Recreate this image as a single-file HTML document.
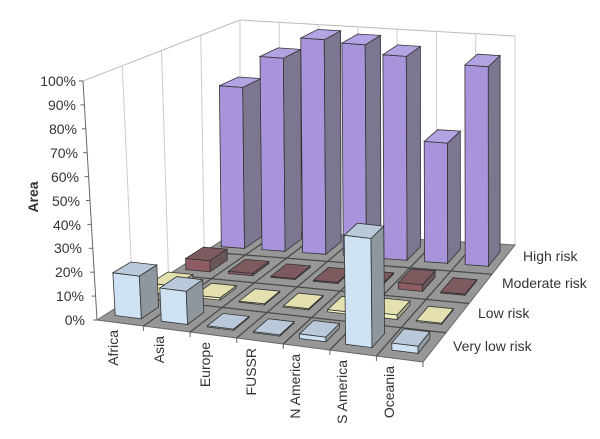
<!DOCTYPE html><html><head><style>body{margin:0;background:#fff}svg{display:block}text{font-family:"Liberation Sans",sans-serif;fill:#333}</style></head><body>
<svg id="s" width="600" height="439" xmlns="http://www.w3.org/2000/svg">
<g id="walls"></g><g id="bars"></g>
<g font-size="14" text-anchor="end">
<text x="76" y="86">100%</text><text x="76" y="110">90%</text><text x="77" y="134">80%</text><text x="78" y="158">70%</text><text x="79" y="182">60%</text><text x="80" y="206">50%</text><text x="81" y="230">40%</text><text x="82" y="253">30%</text><text x="83" y="277">20%</text><text x="84" y="301">10%</text><text x="85" y="325">0%</text>
</g>
<text transform="translate(38,197) rotate(-90)" font-size="14" font-weight="bold" text-anchor="middle">Area</text>
<g font-size="14" text-anchor="end">
<text transform="translate(118,330) rotate(-90)">Africa</text>
<text transform="translate(164,336) rotate(-90)">Asia</text>
<text transform="translate(210,342) rotate(-90)">Europe</text>
<text transform="translate(256,348) rotate(-90)">FUSSR</text>
<text transform="translate(300,354) rotate(-90)">N America</text>
<text transform="translate(347,360) rotate(-90)">S America</text>
<text transform="translate(394,366) rotate(-90)">Oceania</text>
</g>
<g font-size="14">
<text x="523" y="261">High risk</text><text x="502" y="288">Moderate risk</text><text x="478" y="318">Low risk</text><text x="453" y="351">Very low risk</text>
</g>
</svg>
<script>
var P00=[97,320],P10=[423,362],P01=[240,229],P11=[515,245];
function fl(u,v){var a=[P00[0]+(P10[0]-P00[0])*u,P00[1]+(P10[1]-P00[1])*u],b=[P01[0]+(P11[0]-P01[0])*u,P01[1]+(P11[1]-P01[1])*u];return [a[0]+(b[0]-a[0])*v,a[1]+(b[1]-a[1])*v];}
function pr(u,v,h){var p=fl(u,v);var S=239-30*v;return [p[0]-14*(1-u)*(1-v)*h,p[1]-S*h];}
function poly(pts,fill,stroke,sw){return '<polygon points="'+pts.map(function(p){return p[0].toFixed(1)+','+p[1].toFixed(1)}).join(' ')+'" fill="'+fill+'" stroke="'+(stroke||'#333')+'" stroke-width="'+(sw||0.8)+'"/>';}
function ln(a,b,c,w){return '<line x1="'+a[0]+'" y1="'+a[1]+'" x2="'+b[0]+'" y2="'+b[1]+'" stroke="'+c+'" stroke-width="'+w+'"/>';}
var w='';
w+=ln(pr(0,0,1),pr(0,1,1),'#bbb',1);w+=ln(pr(0,1,1),pr(1,1,1),'#bbb',1);
w+=ln(pr(0,0,0),pr(0,0,1),'#666',1);
for(var k=1;k<4;k++){w+=ln(pr(0,k/4,0),pr(0,k/4,1),'#ccc',1);}
w+=ln(pr(0,1,0),pr(0,1,1),'#ccc',1);
for(var k=1;k<=7;k++){w+=ln(pr(k/7,1,0),pr(k/7,1,1),'#ccc',1);}
for(var t=0;t<=10;t++){var p=pr(0,0,t/10);w+=ln([p[0]-4,p[1]],p,'#666',1);}
w+=poly([fl(0,0),fl(1,0),fl(1,1),fl(0,1)],'#979797','#666',1);
for(var k=1;k<4;k++)w+=ln(fl(0,k/4),fl(1,k/4),'#4a4a4a',1.3);
for(var k=1;k<7;k++)w+=ln(fl(k/7,0),fl(k/7,1),'#4a4a4a',1.3);
for(var k=1;k<=7;k++){var p=fl(k/7,0);w+=ln(p,[p[0],p[1]+5],'#666',1);}
document.getElementById('walls').innerHTML=w;
var data=[[.18,.14,.005,.005,.02,.46,.03],[.04,.01,.005,.005,.01,.02,.005],[.05,.01,.005,.005,.005,.03,.005],[.75,.90,1.0,.99,.95,.56,.93]];
var col=[['#cfe2f3','#8e979d','#b9c9d9'],['#f4f0c0','#a9a88c','#e4e0b0'],['#8d5d63','#6a5558','#7c5a5e'],['#a994dc','#7d7691','#b3a3e2']];
var b='';
for(var j=3;j>=0;j--){for(var i=0;i<7;i++){var h=data[j][i];var u0=(i+.2)/7,u1=(i+.77)/7,v0=(j+.25)/4,v1=(j+.75)/4;var c=col[j];
b+=poly([pr(u0,v0,0),pr(u1,v0,0),pr(u1,v0,h),pr(u0,v0,h)],c[0]);
b+=poly([pr(u1,v0,0),pr(u1,v1,0),pr(u1,v1,h),pr(u1,v0,h)],c[1]);
b+=poly([pr(u0,v0,h),pr(u1,v0,h),pr(u1,v1,h),pr(u0,v1,h)],c[2]);}}
document.getElementById('bars').innerHTML=b;
</script>
</body></html>
